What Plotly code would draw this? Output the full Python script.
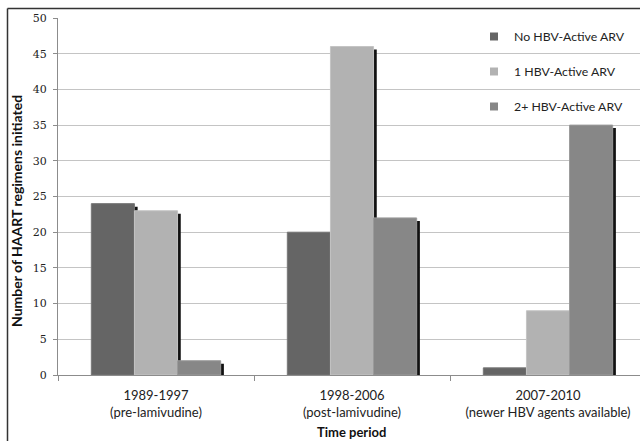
import plotly.graph_objects as go

categories = ["1989-1997<br>(pre-lamivudine)",
              "1998-2006<br>(post-lamivudine)",
              "2007-2010<br>(newer HBV agents available)"]
series_names = ["No HBV-Active ARV", "1 HBV-Active ARV", "2+ HBV-Active ARV"]
no_active = [24, 20, 1]
one_active = [23, 46, 9]
two_plus_active = [2, 22, 35]
y_ticks = [0, 5, 10, 15, 20, 25, 30, 35, 40, 45, 50]

series_values = [no_active, one_active, two_plus_active]
colors = ["#656565", "#b2b2b2", "#878787"]
outline = ["#777777", "#c4c4c4", "#9a9a9a"]

PW = 582
PH = 357
px_per_unit = 196.0
x_end = -0.5 + PW / px_per_unit
bar_w = 0.22
offsets = [-0.33, -0.11, 0.11]
shadow_dx = 3.2 / px_per_unit
shadow_drop = 3 / 7.14

fig = go.Figure()
for i, (name, vals) in enumerate(zip(series_names, series_values)):
    fig.add_trace(go.Bar(
        x=categories, y=[v - shadow_drop + 0.15 for v in vals], base=-0.15,
        offset=offsets[i] + shadow_dx, width=bar_w,
        marker=dict(color="#111111", line=dict(width=0)),
        showlegend=False, hoverinfo="skip",
    ))
    fig.add_trace(go.Bar(
        x=categories, y=vals, name=name,
        offset=offsets[i], width=bar_w,
        marker=dict(color=colors[i], line=dict(color=outline[i], width=1)),
        showlegend=False,
    ))

for i, name in enumerate(series_names):
    fig.add_trace(go.Scatter(
        x=[None], y=[None], mode="markers", name=name,
        marker=dict(symbol="square", size=8, color=colors[i]),
        legendgroup=f"g{i}", hoverinfo="skip",
    ))

fig.update_layout(
    width=640, height=441,
    barmode="overlay",
    margin=dict(l=58, r=0, t=18, b=66),
    paper_bgcolor="white", plot_bgcolor="white",
    font=dict(family="Lato, Open Sans, sans-serif", size=12, color="#222222"),
    showlegend=True,
    legend=dict(x=(474 - 58) / PW, y=1 - 4 / PH, xanchor="left", yanchor="top",
                bgcolor="rgba(0,0,0,0)", tracegroupgap=16,
                font=dict(size=12.3, color="#222222"),
                itemwidth=30),
    xaxis=dict(
        range=[-0.5, x_end],
        automargin=False,
        showline=True, linecolor="#8c8c8c", linewidth=1,
        ticks="outside", tickson="boundaries", ticklen=5, tickcolor="#8c8c8c",
        showgrid=False,
        tickfont=dict(size=13, color="#222222"),
        ticklabelstandoff=8,
    ),
    yaxis=dict(
        range=[0, 50], tickvals=y_ticks,
        automargin=False,
        showline=True, linecolor="#8c8c8c", linewidth=1,
        ticks="outside", ticklen=4, tickcolor="#8c8c8c",
        showgrid=True, gridcolor="#c4c4c4", gridwidth=1,
        zeroline=False,
        tickfont=dict(family="DejaVu Serif, Liberation Serif, serif", size=11, color="#222222"),
        ticklabelstandoff=4,
    ),
    annotations=[
        dict(text="<b>Number of HAART regimens initiated</b>", textangle=-90,
             xref="paper", yref="paper", x=(16 - 58) / PW, y=(375 - 211) / PH,
             xanchor="center", yanchor="middle", showarrow=False,
             font=dict(size=14, color="#111111")),
        dict(text="<b>Time period</b>",
             xref="paper", yref="paper", x=(351 - 58) / PW, y=(375 - 432) / PH,
             xanchor="center", yanchor="middle", showarrow=False,
             font=dict(size=13, color="#111111")),
    ],
    shapes=[
        dict(type="line", xref="paper", yref="paper",
             x0=(7.5 - 58) / PW, x1=(7.5 - 58) / PW, y0=-66 / PH, y1=(375 - 8.5) / PH,
             line=dict(color="#333333", width=1.5), layer="above"),
        dict(type="line", xref="paper", yref="paper",
             x0=(7.5 - 58) / PW, x1=1.0, y0=(375 - 8.5) / PH, y1=(375 - 8.5) / PH,
             line=dict(color="#333333", width=1.5), layer="above"),
    ],
)

fig.write_html("out.html",
               config={"displayModeBar": False},
               post_script="document.body.style.margin='0';document.body.style.overflow='hidden';")
